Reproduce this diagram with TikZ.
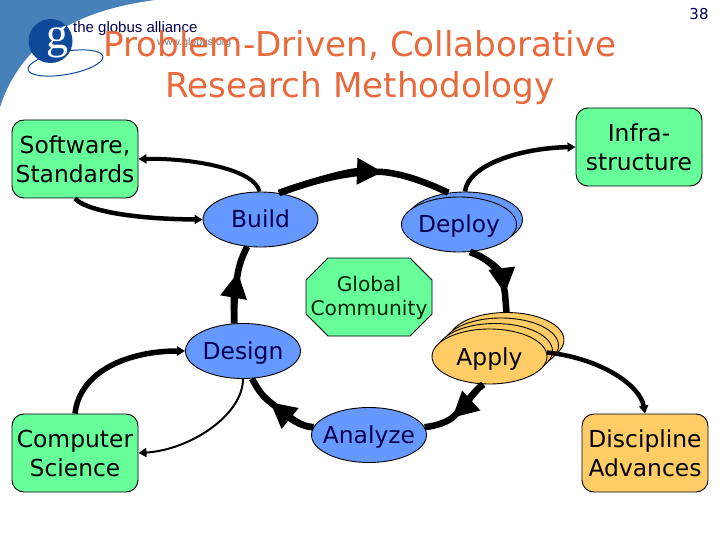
\documentclass[tikz,border=0pt]{standalone}
\usepackage{fontspec}
\setmainfont{DejaVu Sans}
\newfontfamily\logofont{Liberation Sans}
\newfontfamily\gfont{Liberation Serif}
\usetikzlibrary{arrows.meta,shapes.geometric}
\definecolor{mintbox}{HTML}{66FF99}
\definecolor{bluestage}{HTML}{6699FF}
\definecolor{orangestage}{HTML}{FFCC66}
\definecolor{titleorange}{HTML}{E8693C}
\definecolor{swoosh}{HTML}{4682B9}
\definecolor{logoblue}{HTML}{0F4A9A}
\definecolor{navytext}{HTML}{000050}
\newcommand{\zw}[1]{\makebox[0pt][c]{#1}}
\tikzset{
  x=1pt,y=-1pt,
  stage/.style={ellipse,draw=black,line width=0.9pt,minimum width=115pt,minimum height=55pt,inner sep=0pt,text=navytext,text height=20pt,text depth=3pt,font=\fontsize{23.4}{28}\selectfont},
  bluest/.style={stage,fill=bluestage},
  orangest/.style={stage,fill=orangestage,text=black!90!navytext},
  roundbox/.style={draw=black,line width=0.9pt,rounded corners=12pt,minimum width=126pt,minimum height=78pt,inner sep=0pt,align=center,font=\fontsize{23.4}{29}\selectfont},
  octlabel/.style={inner sep=0pt,align=center,font=\fontsize{20.2}{24}\selectfont,text=black!85!green},
  cyc/.style={line width=6.5pt,draw=black},
  cychead/.style={cyc,-{Triangle[length=26pt,width=25pt]}},
  link/.style={line width=#1,draw=black,-{Triangle[length=8pt,width=9pt]}},
  titletext/.style={text=titleorange,font=\fontsize{34.2}{41}\selectfont,align=center},
}
\begin{document}
\begin{tikzpicture}
\useasboundingbox (0,0) rectangle (720,540);
% logo
\fill[swoosh] (0,0) -- (155,0) .. controls (95,8) and (25,30) .. (0,107) -- cycle;
\node[ellipse,draw=logoblue,line width=1pt,minimum width=76pt,minimum height=23pt,inner sep=0pt,rotate=10] (orbit) at (65.5,63) {};
\node[circle,fill=logoblue,minimum size=44pt,inner sep=0pt] (ball) at (50.5,41) {};
\node[text=white,inner sep=0pt,font=\gfont\fontsize{44}{44}\selectfont] (gl) at (57,42) {g};
\node[anchor=west,inner sep=0pt,text=navytext,font=\logofont\fontsize{15}{18}\selectfont] (lt) at (73,29) {the globus alliance};
\node[anchor=west,inner sep=0pt,text=black!55,font=\logofont\fontsize{10.5}{12}\selectfont] (lu) at (157,43) {www.globus.org};
% title
\node[titletext] (title) at (360,68) {Problem-Driven, Collaborative\\Research Methodology};
\node[text=navytext,font=\fontsize{15}{17}\selectfont] (pg) at (699,14) {38};
% boxes
\node[roundbox,fill=mintbox] (sw) at (75,159) {Software,\\Standards};
\node[roundbox,fill=mintbox] (inf) at (639,147) {Infra-\\structure};
\node[roundbox,fill=mintbox] (cs) at (75,453) {Computer\\Science};
\node[roundbox,fill=orangestage] (disc) at (645,453) {Discipline\\Advances};
% stages
\node[bluest] (build) at (260.5,219.5) {\zw{Build}};
\node[bluest] (deployb) at (465,219.5) {};
\node[bluest] (deploy) at (459,224.5) {\zw{Deploy}};
\node[bluest] (design) at (243,351) {\zw{Design}};
\node[bluest] (analyze) at (369,435) {\zw{Analyze}};
\node[orangest] (applyc) at (506.5,340) {};
\node[orangest] (applyb) at (501,345.5) {};
\node[orangest] (applya) at (495,351) {};
\node[orangest] (apply) at (489.5,356.5) {\zw{Apply}};
% centre
\draw[fill=mintbox,draw=black,line width=0.9pt] (328,258) -- (410,258) -- (432,280) -- (432,314) -- (410,336) -- (328,336) -- (306,314) -- (306,280) -- cycle;
\node[octlabel] (gc) at (369,298) {Global\\Community};
% cycle: whole arc, then the part that carries the arrowhead
\coordinate (h1) at (383,172);
\coordinate (h2) at (505,294);
\coordinate (h3) at (452,418);
\coordinate (h4) at (270,402);
\coordinate (h5) at (238,272);
\draw[cyc] (h1) .. controls (405,174) and (430,184) .. (deployb.122);
\draw[cyc] (build.55) .. controls (315,180) and (350,171) .. (h1);
\draw[cychead] (build.55) .. controls (315,180) and (350,171) .. (h1);
\draw[cyc] (deploy.-68) .. controls (497,262) and (503,278) .. (h2) -- (applyc.north);
\draw[cychead] (deploy.-68) .. controls (497,262) and (503,278) .. (h2);
\draw[cyc] (apply.-103) .. controls (473,392) and (463,408) .. (h3) .. controls (445,423) and (435,426) .. (analyze.8);
\draw[cychead] (apply.-103) .. controls (473,392) and (463,408) .. (h3);
\draw[cyc] (analyze.172) .. controls (303,427) and (292,420) .. (h4) .. controls (262,396) and (257,388) .. (design.-72);
\draw[cychead] (analyze.172) .. controls (303,427) and (292,420) .. (h4);
\draw[cyc] (design.108) .. controls (234,315) and (234,295) .. (h5) .. controls (240,262) and (243,255) .. (build.-116);
\draw[cychead] (design.108) .. controls (234,315) and (234,295) .. (h5);
% links
\draw[link=4pt] (build.92) .. controls (255,170) and (195,158) .. (sw.east);
\draw[link=4.5pt] (sw.south) .. controls (85,210) and (130,219) .. (build.west);
\draw[link=4.5pt] (deployb.north) .. controls (468,165) and (520,148) .. (inf.west);
\draw[link=4.5pt] (apply.4) .. controls (600,358) and (640,385) .. (disc.north);
\draw[link=5.5pt] (cs.north) .. controls (80,370) and (130,351) .. (design.west);
\draw[link=2pt] (design.south) .. controls (243,415) and (190,450) .. (cs.east);
\end{tikzpicture}
\end{document}
